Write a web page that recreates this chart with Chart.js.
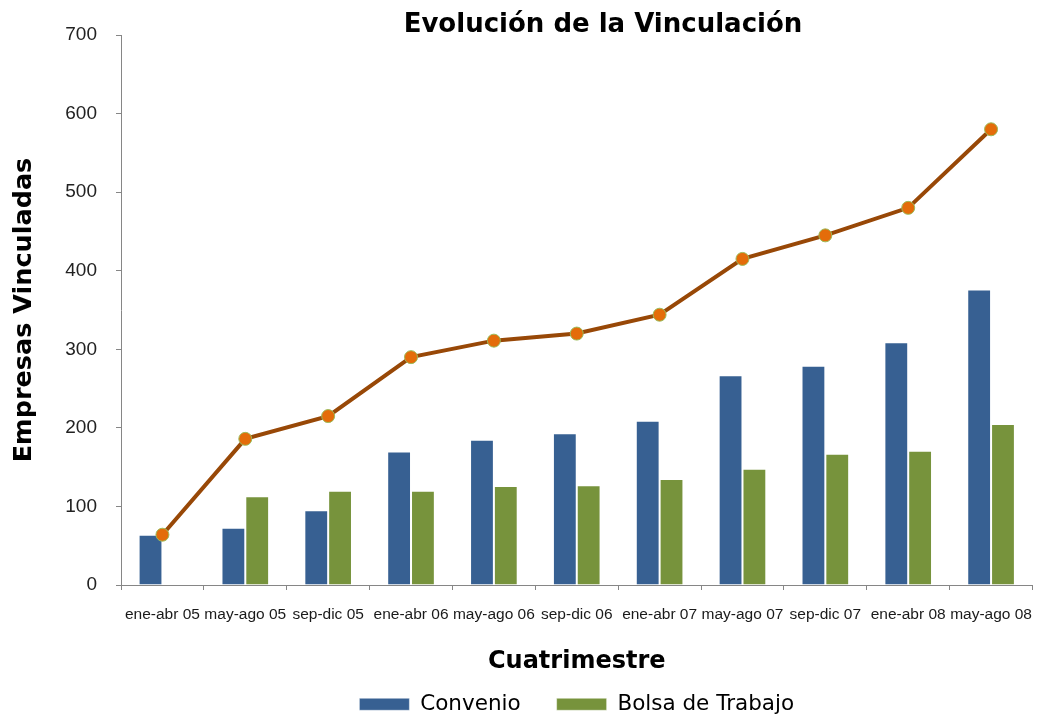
<!DOCTYPE html>
<html lang="es">
<head>
    <meta charset="UTF-8">
    <title>Evolución de la Vinculación</title>
    <script src="https://cdn.jsdelivr.net/npm/chart.js@4.4.0/dist/chart.umd.min.js"></script>
    <style>
        * {
            margin: 0;
            padding: 0;
            box-sizing: border-box;
        }
        body {
            background-color: #ffffff;
            width: 1040px;
            height: 717px;
            overflow: hidden;
        }
        .chart-box {
            position: relative;
            width: 1040px;
            height: 717px;
        }
    </style>
</head>
<body>
    <div class="chart-box">
        <canvas id="vinculacionChart"></canvas>
    </div>

    <script>
        // datos
        const cuatrimestres = ['ene-abr 05', 'may-ago 05', 'sep-dic 05', 'ene-abr 06', 'may-ago 06', 'sep-dic 06',
                               'ene-abr 07', 'may-ago 07', 'sep-dic 07', 'ene-abr 08', 'may-ago 08'];
        const convenio = [64, 73, 95, 170, 185, 193, 209, 267, 279, 309, 376];
        const bolsaTrabajo = [null, 113, 120, 120, 126, 127, 135, 148, 167, 171, 205];
        const totalVinculadas = [64, 186, 215, 290, 311, 320, 344, 415, 445, 480, 580];

        const yMin = 0;
        const yMax = 700;
        const yPaso = 100;

        const titulo = 'Evolución de la Vinculación';
        const tituloX = 'Cuatrimestre';
        const tituloY = 'Empresas Vinculadas';

        const boldFont = '"DejaVu Sans", sans-serif';
        const tickFont = '"Liberation Sans", Arial, sans-serif';
        const axisGray = '#868686';

        // titulo dibujado a mano, va un poco corrido a la derecha
        const tituloPlugin = {
            id: 'tituloGrafica',
            afterDraw(chart) {
                const ctx = chart.ctx;
                ctx.save();
                ctx.font = 'bold 26px ' + boldFont;
                ctx.fillStyle = '#000000';
                ctx.textAlign = 'center';
                ctx.textBaseline = 'alphabetic';
                ctx.fillText(titulo, 603, 32);
                ctx.restore();
            }
        };

        const ctx = document.getElementById('vinculacionChart').getContext('2d');
        new Chart(ctx, {
            type: 'bar',
            data: {
                labels: cuatrimestres,
                datasets: [
                    {
                        label: 'Convenio',
                        data: convenio,
                        backgroundColor: '#376092',
                        borderColor: 'rgba(255, 255, 255, 0.45)',
                        borderWidth: 1,
                        order: 2
                    },
                    {
                        label: 'Bolsa de Trabajo',
                        data: bolsaTrabajo,
                        backgroundColor: '#77933C',
                        borderColor: 'rgba(255, 255, 255, 0.45)',
                        borderWidth: 1,
                        order: 3
                    },
                    {
                        type: 'line',
                        label: 'Total',
                        data: totalVinculadas,
                        borderColor: '#984807',
                        borderWidth: 4,
                        pointBackgroundColor: '#E46C0A',
                        pointBorderColor: '#9BBB59',
                        pointBorderWidth: 1,
                        pointRadius: 6.5,
                        tension: 0,
                        order: 1
                    }
                ]
            },
            options: {
                responsive: true,
                maintainAspectRatio: false,
                animation: false,
                datasets: {
                    bar: {
                        barPercentage: 1,
                        categoryPercentage: 0.575
                    }
                },
                layout: {
                    padding: { top: 35, left: 0, right: 3, bottom: -8 }
                },
                scales: {
                    x: {
                        grid: {
                            display: true,
                            drawOnChartArea: false,
                            drawTicks: true,
                            tickLength: 5,
                            color: axisGray,
                            offset: true
                        },
                        border: { color: axisGray, width: 1 },
                        ticks: {
                            autoSkip: false,
                            maxRotation: 0,
                            minRotation: 0,
                            padding: 15,
                            color: '#1a1a1a',
                            font: { family: tickFont, size: 15.5 }
                        },
                        title: {
                            display: true,
                            text: tituloX,
                            color: '#000000',
                            font: { family: boldFont, size: 24, weight: 'bold' },
                            padding: { top: 0, bottom: -19 }
                        },
                        afterFit(scale) {
                            scale.height = 72.5;
                            scale.paddingLeft = 0;
                            scale.paddingRight = 0;
                        }
                    },
                    y: {
                        min: yMin,
                        max: yMax,
                        ticks: {
                            stepSize: yPaso,
                            padding: 19,
                            color: '#222222',
                            font: { family: tickFont, size: 19 }
                        },
                        grid: {
                            display: true,
                            drawOnChartArea: false,
                            drawTicks: true,
                            tickLength: 5,
                            color: axisGray
                        },
                        border: { color: axisGray, width: 1 },
                        title: {
                            display: true,
                            text: tituloY,
                            color: '#000000',
                            font: { family: boldFont, size: 25.5, weight: 'bold' },
                            padding: { top: 9, bottom: 0 }
                        },
                        afterFit(scale) {
                            scale.width = 121;
                        }
                    }
                },
                plugins: {
                    title: { display: false },
                    tooltip: { enabled: false },
                    legend: {
                        display: true,
                        position: 'bottom',
                        fullSize: false,
                        labels: {
                            boxWidth: 50,
                            boxHeight: 12,
                            padding: 36,
                            color: '#000000',
                            font: { family: boldFont, size: 21.5 },
                            filter: (item) => item.datasetIndex !== 2
                        }
                    }
                }
            },
            plugins: [tituloPlugin]
        });
    </script>
</body>
</html>
